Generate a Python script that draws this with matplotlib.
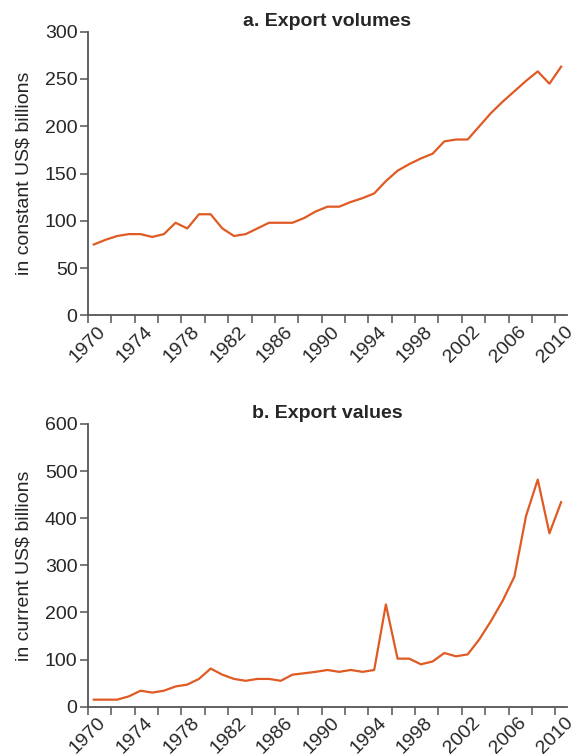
import numpy as np
import matplotlib
matplotlib.use("Agg")
import matplotlib.pyplot as plt
from matplotlib.ticker import MultipleLocator

# Data
years = list(range(1970, 2011))
export_volumes = [75, 80, 84, 86, 86, 83, 86, 98, 92, 107,
                  107, 92, 84, 86, 92, 98, 98, 98, 103, 110,
                  115, 115, 120, 124, 129, 142, 153, 160, 166, 171,
                  184, 186, 186, 200, 214, 226, 237, 248, 258, 245, 263]
export_values = [15, 15, 15, 22, 34, 30, 34, 43, 47, 59,
                 81, 68, 59, 55, 59, 59, 55, 68, 71, 74,
                 78, 74, 78, 74, 78, 217, 102, 102, 90, 96,
                 114, 107, 111, 143, 182, 225, 276, 405, 482, 368, 434]
tick_years = list(range(1970, 2011, 4))

LINE_COLOR = "#E05A24"
AXIS_COLOR = "#555555"
TEXT_COLOR = "#262626"
FS = 14

plt.rcParams['font.family'] = ['Liberation Sans', 'DejaVu Sans']
plt.rcParams['font.size'] = FS

fig = plt.figure(figsize=(5.75, 7.54), dpi=100)
ax1 = fig.add_axes([0.153, 0.5816, 0.833, 0.3764])
ax2 = fig.add_axes([0.153, 0.0627, 0.833, 0.375])


def style_panel(ax, values, ymax, ystep, title, ylabel):
    # points sit in the middle of each year slot, like a category axis
    x = np.array(years) + 0.5
    ax.plot(x, values, color=LINE_COLOR, linewidth=1.6)
    ax.set_xlim(1970, 2011)
    ax.set_ylim(0, ymax)
    ax.yaxis.set_major_locator(MultipleLocator(ystep))
    ax.set_xticks(tick_years)
    ax.set_xticklabels([str(y) for y in tick_years], rotation=45, ha='center',
                       color=TEXT_COLOR)
    ax.xaxis.set_minor_locator(MultipleLocator(2))
    for s in ['top', 'right']:
        ax.spines[s].set_visible(False)
    for s in ['left', 'bottom']:
        ax.spines[s].set_color(AXIS_COLOR)
        ax.spines[s].set_linewidth(1.3)
    ax.tick_params(axis='both', which='both', direction='out', length=5.5,
                   width=1.1, color=AXIS_COLOR, labelcolor=TEXT_COLOR,
                   labelsize=FS)
    ax.tick_params(axis='x', which='major', pad=0)
    ax.tick_params(axis='y', pad=2)
    ax.set_title(title, fontweight='bold', fontsize=FS, color=TEXT_COLOR,
                 pad=4)
    ax.set_ylabel(ylabel, color=TEXT_COLOR, fontsize=FS, labelpad=9)


style_panel(ax1, export_volumes, 300, 50, "a. Export volumes",
            "in constant US$ billions")
style_panel(ax2, export_values, 600, 100, "b. Export values",
            "in current US$ billions")

fig.savefig("out.png", dpi=100)
